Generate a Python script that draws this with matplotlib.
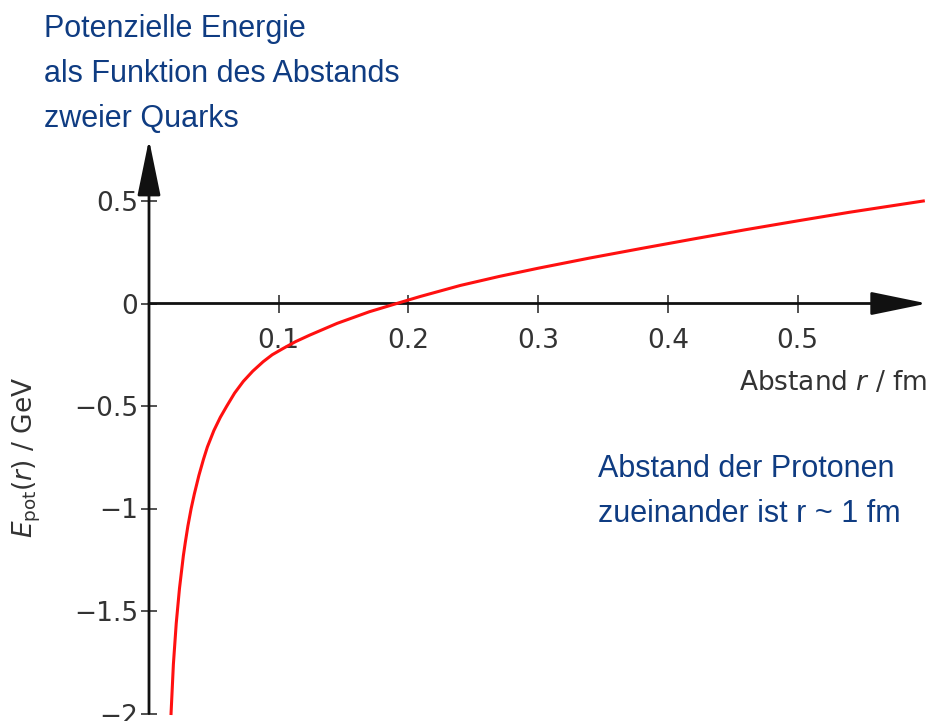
import matplotlib
matplotlib.use("Agg")
import matplotlib.pyplot as plt

# Data
r_fm = [0.017, 0.0188, 0.021, 0.0235, 0.0265, 0.028, 0.030, 0.0325, 0.035, 0.0385,
        0.042, 0.045, 0.050, 0.055, 0.060, 0.066, 0.0727, 0.080, 0.088, 0.095,
        0.1035, 0.113, 0.124, 0.145, 0.170, 0.191, 0.209, 0.240, 0.270, 0.300,
        0.340, 0.380, 0.420, 0.460, 0.500, 0.540, 0.597]
e_pot = [-2.00, -1.76, -1.56, -1.39, -1.23, -1.165, -1.085, -1.00, -0.928, -0.838,
         -0.76, -0.70, -0.62, -0.555, -0.50, -0.437, -0.38, -0.33, -0.284, -0.25,
         -0.219, -0.186, -0.154, -0.097, -0.040, 0.0, 0.034, 0.088, 0.132, 0.172,
         0.222, 0.269, 0.315, 0.360, 0.403, 0.445, 0.500]

x_ticks = [0.1, 0.2, 0.3, 0.4, 0.5]
x_tick_labels = ["0.1", "0.2", "0.3", "0.4", "0.5"]
y_ticks = [0.5, 0, -0.5, -1, -1.5, -2]
y_tick_labels = ["0.5", "0", "\u22120.5", "\u22121", "\u22121.5", "\u22122"]

title_lines = ["Potenzielle Energie", "als Funktion des Abstands", "zweier Quarks"]
note_lines = ["Abstand der Protonen", "zueinander ist r ~ 1 fm"]

plt.rcParams["mathtext.fontset"] = "dejavusans"

W, H = 938, 721
fig = plt.figure(figsize=(W / 100, H / 100), dpi=100)
ax = fig.add_axes([149 / W, 1 - 713.5 / H, 778.2 / W, 574 / H])
ax.set_xlim(0, 0.6)
ax.set_ylim(-2, 0.8)

for s in ax.spines.values():
    s.set_visible(False)

axis_col = "#111111"
label_col = "#333333"

# Axis lines with arrowheads
arrow_style = "-|>,head_length=3.5,head_width=0.72"
ax.annotate("", xy=(0.6, 0), xytext=(0, 0), xycoords="data",
            arrowprops=dict(arrowstyle=arrow_style, mutation_scale=10, lw=2,
                            color=axis_col, shrinkA=0, shrinkB=0),
            annotation_clip=False)
ax.annotate("", xy=(0, 0.8), xytext=(0, -2), xycoords="data",
            arrowprops=dict(arrowstyle=arrow_style, mutation_scale=10, lw=2,
                            color=axis_col, shrinkA=0, shrinkB=0),
            annotation_clip=False)

ax.spines["left"].set_position(("data", 0))
ax.spines["bottom"].set_position(("data", 0))
ax.spines["left"].set_visible(True)
ax.spines["bottom"].set_visible(True)
ax.spines["left"].set_linewidth(0)
ax.spines["bottom"].set_linewidth(0)

ax.set_xticks(x_ticks)
ax.set_xticklabels(x_tick_labels)
ax.set_yticks(y_ticks)
ax.set_yticklabels(y_tick_labels)
ax.xaxis.set_ticks_position("bottom")
ax.yaxis.set_ticks_position("left")
ax.tick_params(axis="x", direction="inout", length=12.5, width=1.2, color="#333333",
               labelsize=19, labelcolor=label_col, pad=11.5)
ax.tick_params(axis="y", direction="inout", length=11, width=1.2, color="#333333",
               labelsize=19, labelcolor=label_col, pad=2.5)

ax.plot(r_fm, e_pot, color="#ff1010", lw=2.2, clip_on=False, zorder=5,
        solid_joinstyle="round")

ax.text(0.6, -0.388, "Abstand $r$ / fm", ha="right", va="center",
        fontsize=19, color=label_col)
fig.text(27 / W, 1 - 457 / H, "$E_{\\mathrm{pot}}(r)$ / GeV", fontsize=19,
         color=label_col, rotation=90, ha="center", va="center")

blue = "#0f3c82"
for i, line in enumerate(title_lines):
    fig.text(44 / W, 1 - (36.7 + 45 * i) / H, line, fontsize=22,
             family="Liberation Sans", color=blue, va="baseline", ha="left")
for i, line in enumerate(note_lines):
    fig.text(598 / W, 1 - (476.7 + 45 * i) / H, line, fontsize=22,
             family="Liberation Sans", color=blue, va="baseline", ha="left")

fig.savefig("out.png", dpi=100)
